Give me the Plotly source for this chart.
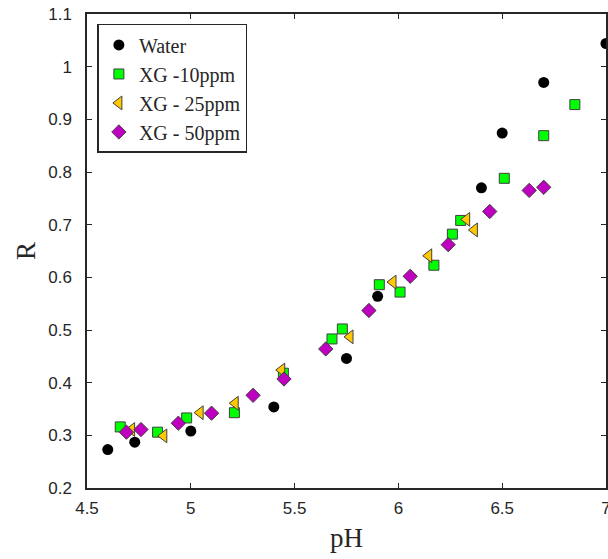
import plotly.graph_objects as go

# Water
water_ph = [4.60, 4.73, 5.00, 5.40, 5.75, 5.90, 6.40, 6.50, 6.70, 7.00]
water_r = [0.273, 0.287, 0.308, 0.354, 0.446, 0.564, 0.770, 0.874, 0.970, 1.044]

# XG -10ppm
xg10_ph = [4.66, 4.84, 4.98, 5.21, 5.446, 5.68, 5.73, 5.908, 6.008, 6.171, 6.26, 6.30, 6.51, 6.70, 6.85]
xg10_r = [0.316, 0.306, 0.333, 0.343, 0.418, 0.483, 0.502, 0.586, 0.572, 0.623, 0.682, 0.708, 0.788, 0.869, 0.928]

# XG - 25ppm
xg25_ph = [4.715, 4.87, 5.045, 5.214, 5.438, 5.767, 5.974, 6.146, 6.329, 6.366]
xg25_r = [0.311, 0.299, 0.343, 0.361, 0.424, 0.487, 0.591, 0.641, 0.710, 0.690]

# XG - 50ppm
xg50_ph = [4.69, 4.76, 4.94, 5.10, 5.30, 5.449, 5.65, 5.858, 6.057, 6.24, 6.44, 6.63, 6.70]
xg50_r = [0.306, 0.311, 0.323, 0.342, 0.376, 0.407, 0.464, 0.537, 0.602, 0.662, 0.725, 0.765, 0.771]

x_ticks = [4.5, 5, 5.5, 6, 6.5, 7]
x_ticklabels = ["4.5", "5", "5.5", "6", "6.5", "7"]
y_ticks = [0.2, 0.3, 0.4, 0.5, 0.6, 0.7, 0.8, 0.9, 1.0, 1.1]
y_ticklabels = ["0.2", "0.3", "0.4", "0.5", "0.6", "0.7", "0.8", "0.9", "1", "1.1"]

edge = "#404040"
fig = go.Figure()
fig.add_trace(go.Scatter(x=water_ph, y=water_r, mode="markers", name="Water", cliponaxis=False,
                         marker=dict(symbol="circle", size=11, color="black",
                                     line=dict(width=0))))
fig.add_trace(go.Scatter(x=xg10_ph, y=xg10_r, mode="markers", name="XG -10ppm",
                         marker=dict(symbol="square", size=10, color="#00FF00",
                                     line=dict(width=1, color=edge))))
fig.add_trace(go.Scatter(x=xg25_ph, y=xg25_r, mode="markers", name="XG - 25ppm",
                         marker=dict(symbol="triangle-left", size=12, color="#FFC800",
                                     line=dict(width=1, color=edge))))
fig.add_trace(go.Scatter(x=xg50_ph, y=xg50_r, mode="markers", name="XG - 50ppm",
                         marker=dict(symbol="diamond", size=11, color="#C000C0",
                                     line=dict(width=1, color=edge))))

axis_common = dict(showline=True, linecolor="#262626", linewidth=1.5, mirror="ticks",
                   ticks="inside", ticklen=5, tickwidth=1, tickcolor="#262626",
                   showgrid=False, zeroline=False, automargin=False,
                   ticklabeloverflow="allow",
                   tickfont=dict(family="Liberation Sans, Arial, sans-serif", size=17, color="#262626"))

fig.update_xaxes(range=[4.5, 7], tickvals=x_ticks, ticktext=x_ticklabels,
                 title=dict(text="pH", font=dict(family="Liberation Serif, serif", size=27, color="#262626"), standoff=11),
                 ticklabelstandoff=4, **axis_common)
fig.update_yaxes(range=[0.2, 1.1], tickvals=y_ticks, ticktext=y_ticklabels,
                 title=dict(text="R", font=dict(family="Liberation Serif, serif", size=27, color="#262626"), standoff=5),
                 ticklabelstandoff=10, **axis_common)

fig.update_layout(
    width=608, height=559,
    margin=dict(l=87, r=2, t=14, b=71),
    plot_bgcolor="white", paper_bgcolor="white",
    showlegend=True,
    legend=dict(x=0.02, y=0.979, xanchor="left", yanchor="top",
                bordercolor="#262626", borderwidth=1.5, bgcolor="white",
                font=dict(family="Liberation Serif, serif", size=20, color="#262626"),
                itemwidth=30, tracegroupgap=0),
)

fig.write_html("out.html", config={"displayModeBar": False},
               post_script="document.body.style.margin='0';document.body.style.overflow='hidden';")
